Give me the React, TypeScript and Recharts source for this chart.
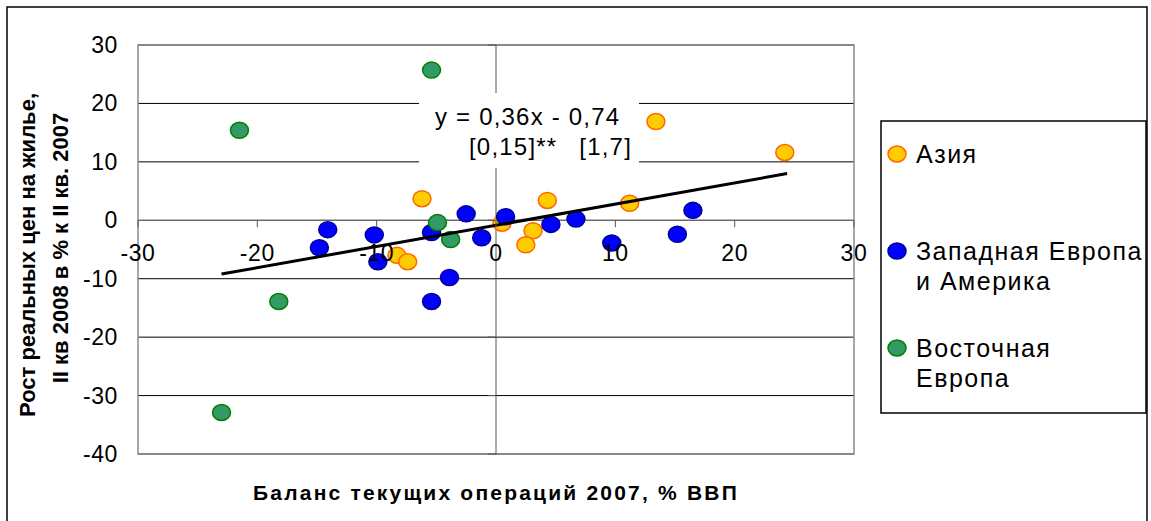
import React from 'react';
import { ScatterChart, Scatter, XAxis, YAxis, CartesianGrid, ReferenceLine, ReferenceArea } from 'recharts';

// Азия
const asiaX = [-6.2, -8.3, -7.4, 0.5, 4.3, 3.1, 2.5, 11.2, 13.4, 24.2];
const asiaY = [3.7, -6.0, -7.1, -0.5, 3.4, -1.8, -4.2, 2.9, 16.9, 11.6];
// Западная Европа и Америка
const westX = [-14.1, -14.8, -10.2, -9.9, -5.4, -2.5, -1.2, -3.9, -5.4, 0.8, 4.6, 6.7, 9.7, 15.2, 16.5];
const westY = [-1.6, -4.7, -2.5, -7.1, -2.1, 1.1, -3.0, -9.8, -13.9, 0.6, -0.7, 0.2, -3.9, -2.4, 1.7];
// Восточная Европа
const eastX = [-21.5, -18.2, -23.0, -5.4, -4.9, -3.8];
const eastY = [15.4, -13.9, -32.9, 25.7, -0.4, -3.3];
// линия тренда (концы)
const trendX = [-23.0, 24.4];
const trendY = [-9.2, 8.0];

const xTicks = [-30, -20, -10, 0, 10, 20, 30];
const yTicks = [-40, -30, -20, -10, 0, 10, 20, 30];

const seriesNames = [['Азия'], ['Западная Европа', 'и Америка'], ['Восточная', 'Европа']];
const seriesFill = ['#FFCC00', '#0000FF', '#339966'];
const seriesStroke = ['#FF6600', '#000099', '#008000'];

const xTitle = 'Баланс текущих операций 2007, % ВВП';
const yTitle = ['Рост реальных цен на жилье,', 'II кв 2008 в % к II кв. 2007'];
const eqLine1 = 'y = 0,36x - 0,74';
const eqLine2a = '[0,15]**';
const eqLine2b = '[1,7]';

const zip = (xs: number[], ys: number[]) => xs.map((x, i) => ({ x, y: ys[i] }));

const FONT = 'Arial, "Liberation Sans", sans-serif';
const W = 1151;
const H = 521;
const PLOT_LEFT = 138;
const PLOT_TOP = 45;
const PLOT_W = 716;
const PLOT_H = 409;
const Y_AXIS_W = 60;
const X_AXIS_H = 30;
const X_MIN = -30, X_MAX = 30, Y_MIN = -40, Y_MAX = 30;
const zeroX = PLOT_LEFT + (PLOT_W * (0 - X_MIN)) / (X_MAX - X_MIN);
const zeroY = PLOT_TOP + (PLOT_H * (Y_MAX - 0)) / (Y_MAX - Y_MIN);

const renderXTick = (props: any) => {
  const { x, payload } = props;
  return (
    <g>
      <line x1={x} x2={x} y1={zeroY} y2={zeroY + 7} stroke="#555" />
      <text x={x} y={zeroY + 41} textAnchor="middle" fontSize={23} letterSpacing={0.6} fontFamily={FONT} fill="#000">
        {payload.value}
      </text>
    </g>
  );
};

const renderYTick = (props: any) => {
  const { y, payload } = props;
  return (
    <g>
      <line x1={zeroX - 8} x2={zeroX} y1={y} y2={y} stroke="#555" />
      <text x={118} y={y + 8} textAnchor="end" fontSize={23} letterSpacing={0.6} fontFamily={FONT} fill="#000">
        {payload.value}
      </text>
    </g>
  );
};

const dot = (i: number) => (p: any) => (
  <ellipse cx={p.cx} cy={p.cy} rx={9} ry={8} fill={seriesFill[i]} stroke={seriesStroke[i]} strokeWidth={1.5} />
);

const legendY = [154, 251, 348];

export default function App() {
  return (
    <div style={{ position: 'absolute', left: 0, top: 0, width: W, height: H, overflow: 'hidden', background: '#fff' }}>
      <ScatterChart
        width={W}
        height={H}
        margin={{
          top: PLOT_TOP,
          right: W - PLOT_LEFT - PLOT_W,
          bottom: H - PLOT_TOP - PLOT_H - X_AXIS_H,
          left: PLOT_LEFT - Y_AXIS_W,
        }}
      >
        <CartesianGrid horizontal vertical={false} stroke="#000" />
        <XAxis
          type="number"
          dataKey="x"
          domain={[X_MIN, X_MAX]}
          ticks={xTicks}
          interval={0}
          height={X_AXIS_H}
          axisLine={false}
          tickLine={false}
          tick={renderXTick}
        />
        <YAxis
          type="number"
          dataKey="y"
          domain={[Y_MIN, Y_MAX]}
          ticks={yTicks}
          interval={0}
          width={Y_AXIS_W}
          axisLine={false}
          tickLine={false}
          tick={renderYTick}
        />
        <ReferenceArea x1={X_MIN} x2={X_MAX} y1={Y_MIN} y2={Y_MAX} fill="none" stroke="#8c8c8c" strokeWidth={1.5} />
        <ReferenceLine y={0} stroke="#777" />
        <ReferenceLine x={0} stroke="#555" />
        <Scatter data={zip(asiaX, asiaY)} shape={dot(0)} isAnimationActive={false} />
        <Scatter data={zip(westX, westY)} shape={dot(1)} isAnimationActive={false} />
        <Scatter data={zip(eastX, eastY)} shape={dot(2)} isAnimationActive={false} />
        <Scatter
          data={zip(trendX, trendY)}
          line={{ stroke: '#000', strokeWidth: 3 }}
          shape={() => <g />}
          isAnimationActive={false}
        />
      </ScatterChart>

      <svg width={W} height={H} style={{ position: 'absolute', left: 0, top: 0, pointerEvents: 'none' }}>
        {/* рамка */}
        <rect x={7} y={7} width={1140} height={540} fill="none" stroke="#000" strokeWidth={1.5} />

        {/* уравнение */}
        <rect x={419} y={93} width={220} height={75} fill="#fff" />
        <text x={435} y={125} fontSize={24} letterSpacing={1.2} fontFamily={FONT} fill="#000">{eqLine1}</text>
        <text x={469} y={155} fontSize={24} letterSpacing={1.2} fontFamily={FONT} fill="#000">{eqLine2a}</text>
        <text x={632} y={155} textAnchor="end" fontSize={24} letterSpacing={1.2} fontFamily={FONT} fill="#000">{eqLine2b}</text>

        {/* подписи осей */}
        <text x={496} y={500} textAnchor="middle" fontSize={21} fontWeight="bold" letterSpacing={2.2} fontFamily={FONT} fill="#000">
          {xTitle}
        </text>
        <text transform="translate(35,255) rotate(-90)" textAnchor="middle" fontSize={22} fontWeight="bold" fontFamily={FONT} fill="#000">
          {yTitle[0]}
        </text>
        <text transform="translate(68,248) rotate(-90)" textAnchor="middle" fontSize={22} fontWeight="bold" fontFamily={FONT} fill="#000">
          {yTitle[1]}
        </text>

        {/* легенда */}
        <rect x={881} y={121} width={265} height={292} fill="#fff" stroke="#000" strokeWidth={1.5} />
        {seriesNames.map((lines, i) => (
          <g key={i}>
            <ellipse cx={897} cy={legendY[i]} rx={9} ry={8} fill={seriesFill[i]} stroke={seriesStroke[i]} strokeWidth={1.5} />
            {lines.map((t, j) => (
              <text key={j} x={916} y={legendY[i] + 9 + j * 30} fontSize={25} letterSpacing={1.5} fontFamily={FONT} fill="#000">
                {t}
              </text>
            ))}
          </g>
        ))}
      </svg>
    </div>
  );
}
